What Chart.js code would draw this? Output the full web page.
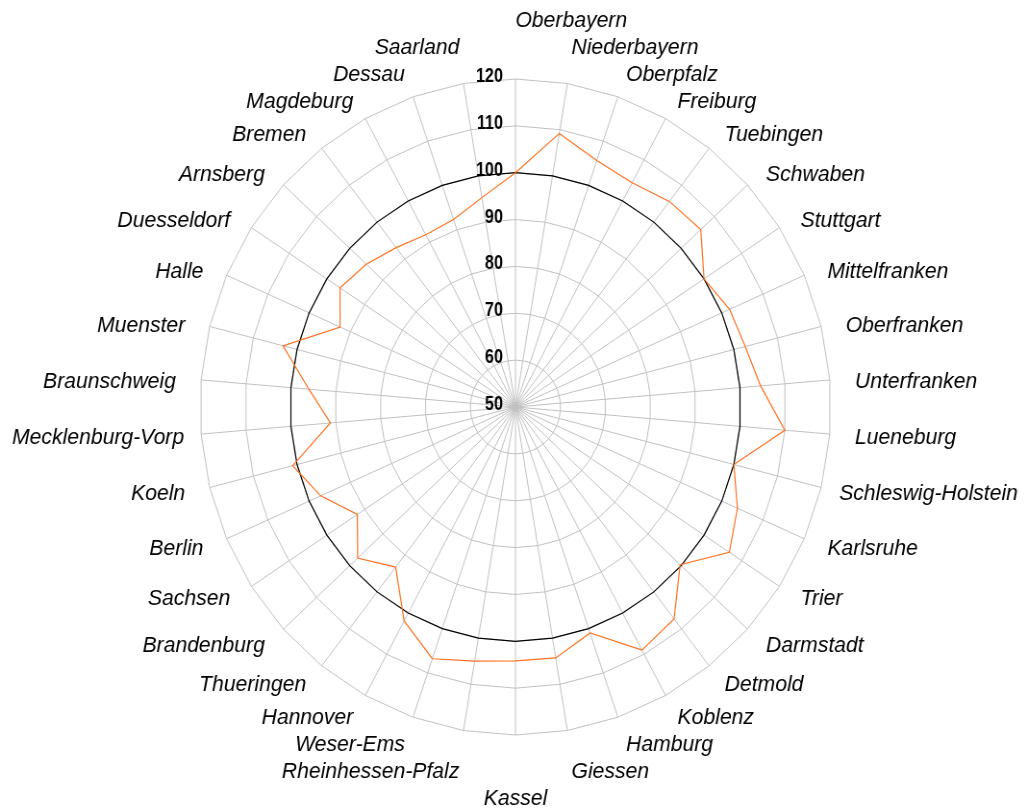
<!DOCTYPE html>
<html>
<head>
<meta charset="utf-8">
<title>Regionen Index</title>
<script src="https://cdn.jsdelivr.net/npm/chart.js@4.4.1/dist/chart.umd.min.js"></script>
<style>
  html, body { margin: 0; padding: 0; background: #fff; overflow: hidden; }
</style>
</head>
<body>
<canvas id="regionChart" width="1068" height="808" style="display:block;width:1027px;height:808px"></canvas>
<script>
const regions = [
    'Oberbayern', 'Niederbayern', 'Oberpfalz', 'Freiburg', 'Tuebingen', 'Schwaben',
    'Stuttgart', 'Mittelfranken', 'Oberfranken', 'Unterfranken', 'Lueneburg',
    'Schleswig-Holstein', 'Karlsruhe', 'Trier', 'Darmstadt', 'Detmold', 'Koblenz',
    'Hamburg', 'Giessen', 'Kassel', 'Rheinhessen-Pfalz', 'Weser-Ems', 'Hannover',
    'Thueringen', 'Brandenburg', 'Sachsen', 'Berlin', 'Koeln', 'Mecklenburg-Vorp',
    'Braunschweig', 'Muenster', 'Halle', 'Duesseldorf', 'Arnsberg', 'Bremen',
    'Magdeburg', 'Dessau', 'Saarland'
];

const indexValues = [
    100, 109.2, 105.6, 104.4, 105.6, 105.9,
    100, 101.9, 102.6, 104.6, 110,
    100, 103.8, 106.7, 99.7, 107.3, 109,
    101, 104.3, 104.2, 105, 106.8, 101.9,
    93.3, 97.6, 91.9, 97.2, 101, 91.2,
    96, 103.2, 92.5, 96.5, 95, 93.1,
    91.8, 92.3, 95.3
];

const referenceLevel = [
    100, 100, 100, 100, 100, 100, 100, 100, 100, 100,
    100, 100, 100, 100, 100, 100, 100, 100, 100, 100,
    100, 100, 100, 100, 100, 100, 100, 100, 100, 100,
    100, 100, 100, 100, 100, 100, 100, 100
];

const tickValues = [50, 60, 70, 80, 90, 100, 110, 120];

// tick numbers sit left of the vertical spoke, 50 included
const tickLabelPlugin = {
    id: 'tickLabels',
    afterDraw(chart) {
        const scale = chart.scales.r;
        const ctx = chart.ctx;
        ctx.font = 'bold 20px "Liberation Sans", Arial, sans-serif';
        ctx.fillStyle = '#000';
        ctx.textAlign = 'right';
        ctx.textBaseline = 'alphabetic';
        tickValues.forEach(v => {
            const y = scale.yCenter - scale.getDistanceFromCenterForValue(v);
            ctx.save();
            ctx.translate(scale.xCenter - 13, y + 3);
            ctx.scale(0.84, 1);   // narrow face
            ctx.fillText(String(v), 0, 0);
            ctx.restore();
        });
    }
};

// region names placed round the plot, pushed outwards where they would collide
const regionLabelPlugin = {
    id: 'regionLabels',
    afterDraw(chart) {
        const scale = chart.scales.r;
        const ctx = chart.ctx;
        const xC = scale.xCenter, yC = scale.yCenter, R = scale.drawingArea;
        const h = 22;
        ctx.save();
        ctx.font = 'italic 22px "Liberation Sans", Arial, sans-serif';
        ctx.fillStyle = '#000';
        ctx.textAlign = 'left';
        ctx.textBaseline = 'middle';

        const items = chart.data.labels.map((text, i) => {
            const a = scale.getIndexAngle(i);
            const sin = Math.sin(a), cos = Math.cos(a);
            const w = ctx.measureText(text).width;
            const ax = xC + sin * R * 1.08;
            let left;
            if (sin > 0.01 || (Math.abs(sin) <= 0.01 && cos > 0)) left = ax;
            else if (sin < -0.01) left = ax - w;
            else left = ax - w / 2;
            left = Math.min(Math.max(left, 12.5), chart.width - 9.5 - w);
            const dir = cos >= 0 ? -1 : 1;
            const cy = yC + 3 + dir * (Math.abs(cos) * R * 1.037 + cos * cos * h / 2);
            return { text, left, w, cy, dir, c: Math.abs(cos) };
        });

        const placed = [];
        items.slice().sort((p, q) => p.c - q.c).forEach(it => {
            let moved = true;
            while (moved) {
                moved = false;
                for (const o of placed) {
                    const xHit = it.left < o.left + o.w + 30 && o.left < it.left + it.w + 30;
                    const yHit = it.cy - h / 2 < o.cy + h / 2 + 5 && o.cy - h / 2 < it.cy + h / 2 + 5;
                    if (xHit && yHit) {
                        it.cy = it.dir < 0 ? o.cy - h - 5 : o.cy + h + 5;
                        moved = true;
                    }
                }
            }
            placed.push(it);
        });

        items.forEach(it => ctx.fillText(it.text, it.left, it.cy));
        ctx.restore();
    }
};

const ctx = document.getElementById('regionChart').getContext('2d');
const regionChart = new Chart(ctx, {
    type: 'radar',
    data: {
        labels: regions,
        datasets: [
            {
                label: 'Index',
                data: indexValues,
                borderColor: '#ff7020',
                borderWidth: 1.2,
                fill: false,
                pointRadius: 0
            },
            {
                label: '100',
                data: referenceLevel,
                borderColor: '#000000',
                borderWidth: 1.2,
                fill: false,
                pointRadius: 0
            }
        ]
    },
    options: {
        responsive: false,
        animation: false,
        devicePixelRatio: 1,
        layout: {
            padding: { left: 206, right: 202, top: 79, bottom: 73 }
        },
        elements: {
            line: { tension: 0 }
        },
        plugins: {
            legend: { display: false },
            tooltip: { enabled: false }
        },
        scales: {
            r: {
                min: 50,
                max: 120,
                ticks: { stepSize: 10, display: false },
                grid: { color: '#c0c0c0', lineWidth: 1 },
                angleLines: { color: '#c0c0c0', lineWidth: 1 },
                pointLabels: { display: false }
            }
        }
    },
    plugins: [tickLabelPlugin, regionLabelPlugin]
});
</script>
</body>
</html>
